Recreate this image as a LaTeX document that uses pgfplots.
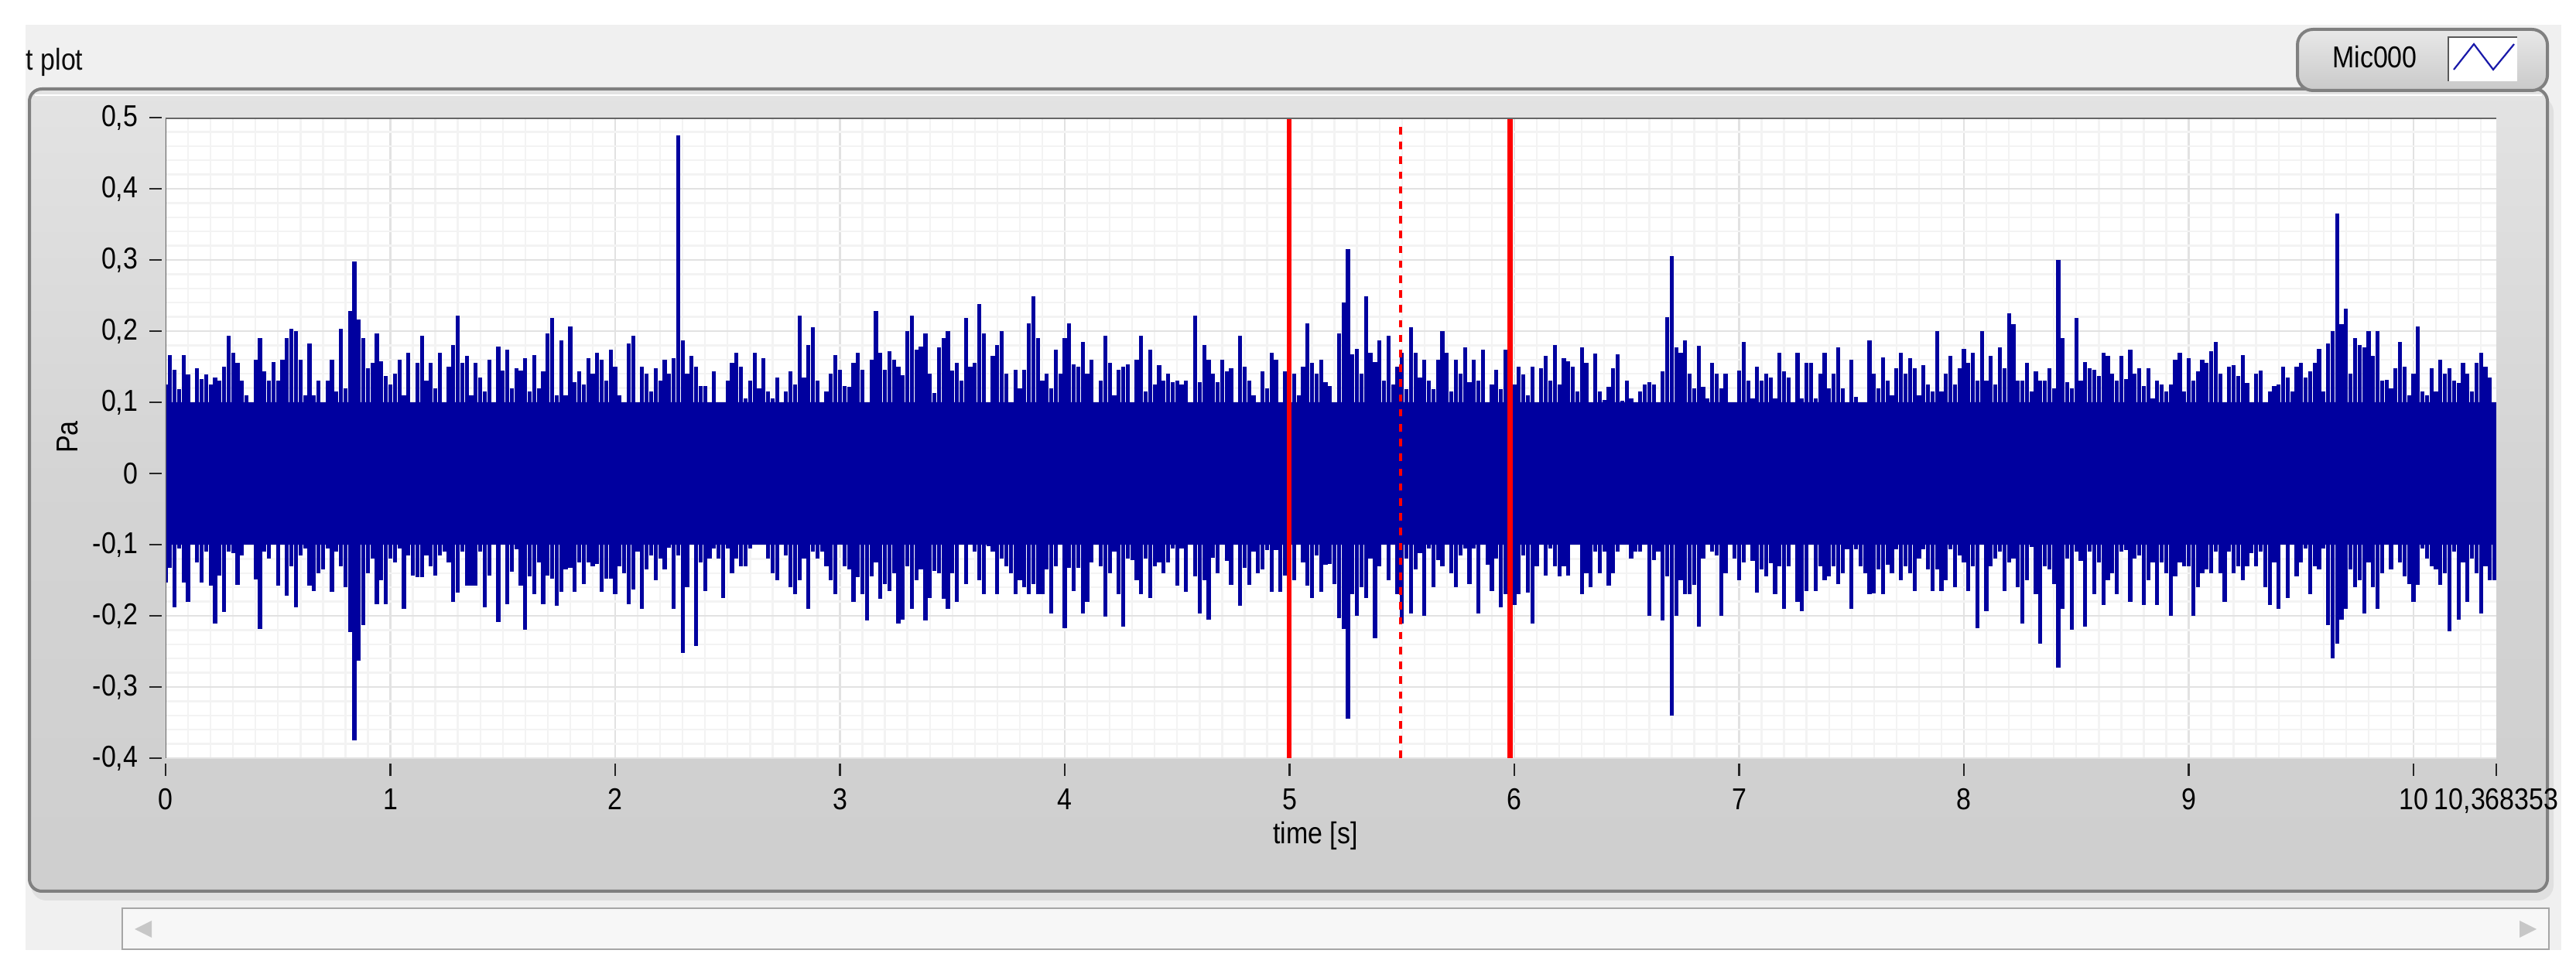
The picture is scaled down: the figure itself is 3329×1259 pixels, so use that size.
\documentclass[border=0pt]{standalone}
\usepackage{pgfplots}
\usepackage{pgfplotstable}
\usepackage{fontspec}
\pgfplotsset{compat=1.18}
\setmainfont[FakeStretch=0.87]{Liberation Sans}
\newcommand{\lv}{\fontsize{9.75}{11}\selectfont}
\newcommand{\lastlabel}{10,368353}
\definecolor{wave}{HTML}{00009F}
\definecolor{gmaj}{HTML}{E2E2E2}
\definecolor{gmin}{HTML}{F3F3F3}
\pgfplotstableread{
t top bot
0.00 .125 -.153
0.02 .166 -.133
0.04 .146 -.188
0.06 .119 -.105
0.08 .166 -.153
0.10 .139 -.18
0.12 .09 -.095
0.14 .148 -.125
0.16 .133 -.153
0.18 .139 -.11
0.20 .125 -.158
0.22 .135 -.211
0.24 .13 -.143
0.26 .15 -.195
0.28 .193 -.11
0.30 .17 -.112
0.32 .155 -.157
0.34 .13 -.115
0.36 .11 -.094
0.38 .08 -.1
0.40 .16 -.149
0.42 .19 -.219
0.44 .144 -.11
0.46 .13 -.12
0.48 .156 -.1
0.50 .13 -.158
0.52 .16 -.1
0.54 .19 -.172
0.56 .203 -.13
0.58 .2 -.188
0.60 .16 -.115
0.62 .11 -.105
0.64 .183 -.158
0.66 .11 -.165
0.68 .13 -.14
0.70 .092 -.135
0.72 .13 -.105
0.74 .16 -.166
0.76 .115 -.11
0.78 .203 -.13
0.80 .12 -.16
0.82 .228 -.223
0.84 .298 -.375
0.86 .216 -.263
0.88 .19 -.213
0.90 .148 -.14
0.92 .155 -.12
0.94 .197 -.184
0.96 .158 -.15
0.98 .137 -.184
1.00 .125 -.12
1.02 .14 -.125
1.04 .16 -.105
1.06 .11 -.19
1.08 .17 -.115
1.10 .10 -.143
1.12 .155 -.146
1.14 .193 -.146
1.16 .13 -.115
1.18 .155 -.13
1.20 .12 -.143
1.22 .17 -.115
1.24 .085 -.11
1.26 .15 -.125
1.28 .18 -.18
1.30 .222 -.167
1.32 .155 -.11
1.34 .165 -.158
1.36 .11 -.158
1.38 .155 -.158
1.40 .135 -.11
1.42 .115 -.188
1.44 .16 -.143
1.46 .09 -.1
1.48 .178 -.209
1.50 .145 -.1
1.52 .174 -.184
1.54 .12 -.138
1.56 .148 -.106
1.58 .145 -.158
1.60 .162 -.22
1.62 .115 -.145
1.64 .166 -.17
1.66 .12 -.125
1.68 .143 -.184
1.70 .197 -.143
1.72 .218 -.148
1.74 .11 -.186
1.76 .187 -.166
1.78 .11 -.135
1.80 .207 -.133
1.82 .128 -.166
1.84 .143 -.125
1.86 .125 -.155
1.88 .162 -.125
1.90 .14 -.13
1.92 .17 -.127
1.94 .16 -.166
1.96 .13 -.148
1.98 .174 -.148
2.00 .15 -.17
2.02 .11 -.13
2.04 .10 -.14
2.06 .183 -.184
2.08 .194 -.163
2.10 .08 -.11
2.12 .15 -.19
2.14 .14 -.135
2.16 .115 -.115
2.18 .148 -.15
2.20 .13 -.12
2.22 .16 -.135
2.24 .14 -.104
2.26 .162 -.19
2.28 .475 -.115
2.30 .187 -.252
2.32 .14 -.16
2.34 .165 -.095
2.36 .15 -.242
2.38 .123 -.125
2.40 .123 -.165
2.42 .1 -.12
2.44 .143 -.105
2.46 .088 -.12
2.48 .1 -.175
2.50 .13 -.105
2.52 .155 -.14
2.54 .17 -.12
2.56 .15 -.13
2.58 .105 -.13
2.60 .13 -.105
2.62 .17 -.095
2.64 .12 -.09
2.66 .162 -.088
2.68 .115 -.12
2.70 .105 -.14
2.72 .135 -.15
2.74 .10 -.10
2.76 .115 -.115
2.78 .143 -.16
2.80 .125 -.17
2.82 .222 -.15
2.84 .135 -.12
2.86 .18 -.19
2.88 .205 -.11
2.90 .13 -.12
2.92 .096 -.11
2.94 .115 -.13
2.96 .14 -.15
2.98 .166 -.17
3.00 .146 -.09
3.02 .123 -.13
3.04 .122 -.135
3.06 .155 -.18
3.08 .17 -.146
3.10 .146 -.17
3.12 .092 -.207
3.14 .16 -.145
3.16 .228 -.125
3.18 .17 -.176
3.20 .146 -.155
3.22 .172 -.165
3.24 .16 -.14
3.26 .15 -.211
3.28 .138 -.205
3.30 .2 -.13
3.32 .222 -.19
3.34 .174 -.15
3.36 .178 -.135
3.38 .197 -.207
3.40 .14 -.175
3.42 .113 -.137
3.44 .177 -.14
3.46 .19 -.176
3.48 .2 -.19
3.50 .145 -.14
3.52 .155 -.18
3.54 .13 -.098
3.56 .218 -.155
3.58 .15 -.098
3.60 .155 -.11
3.62 .238 -.15
3.64 .197 -.17
3.66 .084 -.102
3.68 .165 -.11
3.70 .18 -.17
3.72 .2 -.12
3.74 .14 -.13
3.76 .092 -.14
3.78 .146 -.17
3.80 .12 -.15
3.82 .146 -.16
3.84 .211 -.17
3.86 .249 -.155
3.88 .19 -.17
3.90 .13 -.17
3.92 .14 -.135
3.94 .12 -.197
3.96 .174 -.13
3.98 .14 -.09
4.00 .19 -.217
4.02 .211 -.133
4.04 .153 -.165
4.06 .15 -.133
4.08 .185 -.197
4.10 .14 -.18
4.12 .16 -.125
4.14 .084 -.1
4.16 .13 -.13
4.18 .194 -.201
4.20 .155 -.14
4.22 .11 -.11
4.24 .146 -.17
4.26 .15 -.215
4.28 .153 -.12
4.30 .10 -.122
4.32 .16 -.15
4.34 .194 -.17
4.36 .115 -.12
4.38 .174 -.175
4.40 .125 -.13
4.42 .152 -.125
4.44 .13 -.14
4.46 .14 -.125
4.48 .128 -.105
4.50 .13 -.158
4.52 .125 -.105
4.54 .13 -.166
4.56 .10 -.09
4.58 .222 -.145
4.60 .128 -.197
4.62 .18 -.15
4.64 .16 -.205
4.66 .14 -.118
4.68 .128 -.14
4.70 .16 -.10
4.72 .143 -.123
4.74 .148 -.157
4.76 .10 -.098
4.78 .194 -.186
4.80 .15 -.133
4.82 .13 -.157
4.84 .11 -.11
4.86 .088 -.14
4.88 .143 -.135
4.90 .12 -.108
4.92 .17 -.166
4.94 .16 -.108
4.96 .092 -.166
4.98 .143 -.143
5.00 .12 -.12
5.02 .14 -.15
5.04 .11 -.085
5.06 .15 -.125
5.08 .211 -.158
5.10 .155 -.175
5.12 .14 -.115
5.14 .16 -.166
5.16 .128 -.128
5.18 .123 -.127
5.20 .09 -.155
5.22 .197 -.203
5.24 .24 -.219
5.26 .315 -.345
5.28 .167 -.17
5.30 .175 -.2
5.32 .14 -.16
5.34 .249 -.175
5.36 .17 -.12
5.38 .157 -.232
5.40 .187 -.13
5.42 .13 -.10
5.44 .194 -.15
5.46 .125 -.10
5.48 .15 -.17
5.50 .17 -.211
5.52 .118 -.12
5.54 .205 -.197
5.56 .17 -.135
5.58 .135 -.112
5.60 .16 -.2
5.62 .13 -.105
5.64 .118 -.16
5.66 .16 -.122
5.68 .2 -.13
5.70 .17 -.094
5.72 .115 -.14
5.74 .16 -.16
5.76 .14 -.115
5.78 .177 -.105
5.80 .128 -.155
5.82 .16 -.105
5.84 .13 -.197
5.86 .174 -.098
5.88 .095 -.128
5.90 .125 -.165
5.92 .146 -.12
5.94 .119 -.188
5.96 .174 -.17
5.98 .137 -.16
6.00 .125 -.185
6.02 .15 -.17
6.04 .139 -.115
6.06 .11 -.167
6.08 .15 -.211
6.10 .10 -.13
6.12 .148 -.095
6.14 .165 -.143
6.16 .13 -.105
6.18 .18 -.13
6.20 .125 -.145
6.22 .162 -.13
6.24 .158 -.143
6.26 .15 -.1
6.28 .115 -.094
6.30 .177 -.17
6.32 .155 -.14
6.34 .09 -.16
6.36 .168 -.11
6.38 .115 -.14
6.40 .103 -.11
6.42 .122 -.158
6.44 .148 -.14
6.46 .167 -.11
6.48 .102 -.09
6.50 .13 -.085
6.52 .105 -.12
6.54 .092 -.11
6.56 .115 -.11
6.58 .125 -.09
6.60 .128 -.2
6.62 .125 -.122
6.64 .095 -.11
6.66 .143 -.207
6.68 .22 -.145
6.70 .305 -.34
6.72 .177 -.2
6.74 .17 -.15
6.76 .187 -.17
6.78 .14 -.17
6.80 .12 -.157
6.82 .179 -.215
6.84 .122 -.12
6.86 .105 -.1
6.88 .155 -.11
6.90 .14 -.115
6.92 .12 -.2
6.94 .14 -.14
6.96 .10 -.098
6.98 .10 -.12
7.00 .145 -.15
7.02 .185 -.125
7.04 .13 -.10
7.06 .105 -.123
7.08 .15 -.167
7.10 .13 -.135
7.12 .14 -.145
7.14 .135 -.126
7.16 .105 -.17
7.18 .17 -.13
7.20 .143 -.19
7.22 .135 -.13
7.24 .09 -.085
7.26 .17 -.18
7.28 .105 -.194
7.30 .155 -.165
7.32 .155 -.09
7.34 .105 -.165
7.36 .14 -.13
7.38 .17 -.15
7.40 .12 -.145
7.42 .14 -.13
7.44 .177 -.155
7.46 .12 -.14
7.48 .097 -.106
7.50 .16 -.19
7.52 .108 -.106
7.54 .10 -.13
7.56 .088 -.14
7.58 .187 -.17
7.60 .14 -.168
7.62 .12 -.135
7.64 .163 -.17
7.66 .13 -.128
7.68 .11 -.14
7.70 .148 -.106
7.72 .17 -.15
7.74 .14 -.13
7.76 .162 -.14
7.78 .148 -.165
7.80 .11 -.12
7.82 .152 -.106
7.84 .125 -.135
7.86 .115 -.165
7.88 .2 -.135
7.90 .115 -.165
7.92 .14 -.15
7.94 .165 -.106
7.96 .125 -.16
7.98 .148 -.115
8.00 .175 -.125
8.02 .155 -.165
8.04 .17 -.13
8.06 .13 -.217
8.08 .2 -.10
8.10 .13 -.193
8.12 .165 -.13
8.14 .125 -.12
8.16 .177 -.11
8.18 .148 -.165
8.20 .225 -.125
8.22 .21 -.12
8.24 .13 -.16
8.26 .13 -.211
8.28 .155 -.15
8.30 .115 -.103
8.32 .143 -.17
8.34 .13 -.239
8.36 .13 -.13
8.38 .148 -.135
8.40 .12 -.155
8.42 .30 -.273
8.44 .19 -.19
8.46 .128 -.12
8.48 .12 -.22
8.50 .218 -.11
8.52 .13 -.123
8.54 .157 -.215
8.56 .148 -.11
8.58 .146 -.17
8.60 .137 -.125
8.62 .17 -.185
8.64 .165 -.15
8.66 .14 -.14
8.68 .13 -.17
8.70 .165 -.11
8.72 .133 -.108
8.74 .174 -.18
8.76 .14 -.12
8.78 .148 -.115
8.80 .123 -.185
8.82 .148 -.15
8.84 .105 -.125
8.86 .13 -.185
8.88 .125 -.125
8.90 .115 -.14
8.92 .125 -.2
8.94 .16 -.145
8.96 .17 -.125
8.98 .115 -.13
9.00 .162 -.13
9.02 .13 -.2
9.04 .143 -.16
9.06 .16 -.14
9.08 .155 -.135
9.10 .172 -.14
9.12 .185 -.11
9.14 .14 -.14
9.16 .095 -.18
9.18 .15 -.11
9.20 .152 -.14
9.22 .137 -.13
9.24 .166 -.15
9.26 .127 -.13
9.28 .088 -.112
9.30 .14 -.13
9.32 .145 -.11
9.34 .076 -.16
9.36 .115 -.185
9.38 .123 -.125
9.40 .125 -.19
9.42 .15 -.08
9.44 .135 -.175
9.46 .115 -.10
9.48 .15 -.145
9.50 .155 -.125
9.52 .135 -.105
9.54 .143 -.17
9.56 .155 -.13
9.58 .175 -.135
9.60 .115 -.105
9.62 .183 -.213
9.64 .2 -.26
9.66 .365 -.239
9.68 .21 -.205
9.70 .232 -.19
9.72 .14 -.135
9.74 .19 -.16
9.76 .18 -.15
9.78 .177 -.197
9.80 .2 -.125
9.82 .165 -.16
9.84 .2 -.19
9.86 .13 -.14
9.88 .132 -.095
9.90 .12 -.135
9.92 .148 -.095
9.94 .185 -.125
9.96 .15 -.145
9.98 .11 -.155
10.00 .14 -.18
10.02 .207 -.157
10.04 .115 -.105
10.06 .11 -.12
10.08 .148 -.13
10.10 .115 -.135
10.12 .16 -.157
10.14 .14 -.14
10.16 .148 -.222
10.18 .13 -.11
10.20 .127 -.205
10.22 .155 -.125
10.24 .14 -.18
10.26 .115 -.12
10.28 .155 -.14
10.30 .17 -.197
10.32 .15 -.13
10.34 .135 -.15
10.36 .09 -.15
}\wavetable
\begin{document}
\begin{tikzpicture}
\begin{scope}[x=0.25pt,y=-0.25pt]
\useasboundingbox (0,0) rectangle (3329,1259);
\fill[white] (0,0) rectangle (3329,1259);
\fill[black!6] (33,32) rectangle (3310,1228);
% chart frame
\fill[black!12,rounded corners=5pt] (40,125) rectangle (3300,1164);
\draw[black!50,line width=1pt,top color=black!11,bottom color=black!19,middle color=black!17,rounded corners=4pt]
  (38,115) rectangle (3292,1152);
\draw[white,line width=.5pt] (45,123) -- (3285,123);
% scroll bar
\draw[black!35,fill=black!3,line width=.6pt] (158,1174) rectangle (3294,1227);
\fill[black!22] (174,1201) -- (196,1190) -- (196,1212) -- cycle;
\fill[black!22] (3278,1201) -- (3256,1190) -- (3256,1212) -- cycle;
% title and legend
\node[anchor=west,inner sep=0pt,black!95] at (33,80) {\lv t plot};
\draw[black!50,line width=1pt,top color=black!9,bottom color=black!21,rounded corners=5pt]
  (2969,38) rectangle (3292,117);
\node[inner sep=0pt,black] at (3069,74) {\lv Mic000};
\fill[white] (3164,48) rectangle (3253,105);
\draw[black!65,line width=.5pt] (3164,105) -- (3164,48) -- (3253,48);
\draw[wave!90!white,line width=.55pt] (3171,90) -- (3197,57) -- (3222,90) -- (3249,57);
\node[inner sep=0pt,black] at (1700,1080) {\lv time [s]};
\node[inner sep=0pt,black,rotate=90] at (87,565) {\lv Pa};
\end{scope}
\begin{axis}[
  at={(53.5pt,-245pt)},anchor=south west,
  scale only axis,width=753pt,height=207pt,
  xmin=0,xmax=10.368353,ymin=-0.4,ymax=0.5,
  axis background/.style={fill=white},
  axis line style={draw=none},
  clip=true,
  grid=both,
  major grid style={gmaj,line width=.7pt},
  minor grid style={gmin,line width=.6pt},
  xtick={0,1,2,3,4,5,6,7,8,9,10},
  xticklabels={0,1,2,3,4,5,6,7,8,9,10},
  extra x ticks={10.368353},
  extra x tick labels={\lastlabel},
  extra x tick style={grid=none},
  ytick={-0.4,-0.3,-0.2,-0.1,0,0.1,0.2,0.3,0.4,0.5},
  yticklabels={{-0,4},{-0,3},{-0,2},{-0,1},0,{0,1},{0,2},{0,3},{0,4},{0,5}},
  minor xtick={0,0.1,...,10.35},
  minor ytick={-0.4,-0.38,...,0.5},
  minor tick length=0pt,
  major tick length=3.9pt,
  tick align=outside,
  xtick pos=bottom,ytick pos=left,
  x tick style={yshift=-1.75pt,black!85,line width=.55pt},
  y tick style={xshift=-1.25pt,black!85,line width=.55pt},
  tick label style={font=\lv,black},
  xticklabel style={yshift=-2.5pt},
  yticklabel style={xshift=-1.5pt},
]
\addplot[fill=wave,draw=none,forget plot] coordinates {(0,.1) (10.368,.1) (10.368,-.1) (0,-.1)} --cycle;
\addplot[ycomb,wave,line width=1.3pt,no marks] table[x=t,y=top] {\wavetable};
\addplot[ycomb,wave,line width=1.3pt,no marks] table[x=t,y=bot] {\wavetable};
\addplot[red,line width=1.7pt] coordinates {(4.998,-0.4) (4.998,0.5)};
\addplot[red,line width=1.7pt] coordinates {(5.98,-0.4) (5.98,0.5)};
\addplot[red,line width=1pt,dash pattern=on 2.4pt off 2.4pt] coordinates {(5.495,-0.4) (5.495,0.5)};
\draw[black!60,line width=.75pt] (axis cs:0,-0.4) -- (axis cs:0,0.5) -- (axis cs:10.368353,0.5);
\end{axis}
\end{tikzpicture}
\end{document}
